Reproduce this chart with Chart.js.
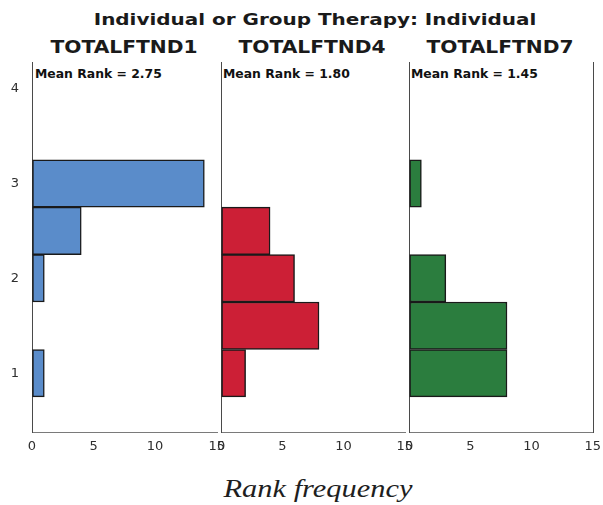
<!DOCTYPE html>
<html>
<head>
<meta charset="utf-8">
<script src="https://cdn.jsdelivr.net/npm/chart.js@4/dist/chart.umd.min.js"></script>
<style>
  html, body { margin: 0; padding: 0; background: #fff; }
  body { width: 603px; height: 505px; overflow: hidden; position: relative; font-family: "DejaVu Sans", sans-serif; }
  .panel { position: absolute; top: 0; }
  .txt { position: absolute; white-space: nowrap; line-height: 1; }
  #mainTitle { font-weight: bold; font-size: 15.6px; color: #1a1a1a; }
  .panelTitle { font-weight: bold; font-size: 18.4px; color: #1a1a1a; }
  .meanRank { font-weight: bold; font-size: 12.4px; color: #111; }
  #xTitle { font-family: "Liberation Serif", serif; font-style: italic; font-size: 26px; color: #1e1e1e; }
</style>
</head>
<body>
<div id="mainTitle" class="txt">Individual or Group Therapy: Individual</div>
<div id="xTitle" class="txt">Rank frequency</div>

<script>
// Rank bins (half-rank wide) and the frequency in each bin
const rankBins = [1, 1.5, 2, 2.5, 3];
const countsFTND1 = [1, 0, 1, 4, 14];
const countsFTND4 = [2, 8, 6, 4, 0];
const countsFTND7 = [8, 8, 3, 0, 1];

const panelNames = ['TOTALFTND1', 'TOTALFTND4', 'TOTALFTND7'];
const panelCounts = [countsFTND1, countsFTND4, countsFTND7];
const panelColors = ['#5a8cca', '#cc1f36', '#2b7d3e'];

const xTickValues = [0, 5, 10, 15];
const yTickValues = [1, 2, 3, 4];

// Layout of the three side-by-side panels
const axisLeft = [32, 220, 408];
const panelWidth = 187.5;
const plotTop = 62;
const plotBottom = 432;
const pageH = 505;
const rightPad = 12;

function meanRank(counts) {
  let s = 0, n = 0;
  counts.forEach((c, i) => { s += c * rankBins[i]; n += c; });
  return s / n;
}

function placeText(el, cx, baseline, fontPx, scaleX, ascentRatio) {
  // line-height 1: baseline sits at top + (1 - (asc+desc))/2 + asc
  const top = baseline - fontPx * ascentRatio;
  el.style.top = top + 'px';
  el.style.left = cx + 'px';
  el.style.transform = 'translateX(-50%) scaleX(' + scaleX + ')';
}

// DejaVu Sans: asc .928 desc .236 -> baseline offset .846em
placeText(document.getElementById('mainTitle'), 315, 26, 15.6, 1.28, 0.846);
// Liberation Serif: asc .891 desc .216 -> baseline offset .8375em
placeText(document.getElementById('xTitle'), 317.7, 498, 26, 1.17, 0.8375);

panelNames.forEach((name, idx) => {
  const t = document.createElement('div');
  t.className = 'txt panelTitle';
  t.textContent = name;
  document.body.appendChild(t);
  placeText(t, axisLeft[idx] + panelWidth / 2 - 1.5, 54, 18.4, 1.1, 0.846);

  const m = document.createElement('div');
  m.className = 'txt meanRank';
  m.textContent = 'Mean Rank = ' + meanRank(panelCounts[idx]).toFixed(2);
  document.body.appendChild(m);
  m.style.left = (axisLeft[idx] + 3) + 'px';
  m.style.top = (78.5 - 12.4 * 0.846) + 'px';
});

const transparent = 'rgba(0,0,0,0)';

function buildPanel(idx) {
  const isFirst = idx === 0;
  const isLast = idx === 2;
  const yAxisW = isFirst ? 32 : 10;
  const w = Math.round(yAxisW + panelWidth + rightPad);

  const wrap = document.createElement('div');
  wrap.className = 'panel';
  wrap.style.left = (axisLeft[idx] - yAxisW) + 'px';
  const canvas = document.createElement('canvas');
  canvas.width = w;
  canvas.height = pageH;
  canvas.style.width = w + 'px';
  canvas.style.height = pageH + 'px';
  wrap.appendChild(canvas);
  document.body.appendChild(wrap);

  const counts = panelCounts[idx];
  const scales = {
    x: {
      type: 'linear',
      position: 'bottom',
      min: 0,
      max: 15.1,
      offset: false,
      afterBuildTicks: s => { s.ticks = xTickValues.map(v => ({ value: v })); },
      afterFit: s => { s.height = pageH - plotBottom; },
      grid: { display: true, color: transparent, drawTicks: false },
      border: { display: true, color: '#7a7a7a', width: 1 },
      ticks: {
        padding: 7,
        color: '#2e2e2e',
        font: { family: 'DejaVu Sans', size: 13 },
        maxRotation: 0,
        autoSkip: false
      }
    },
    y: {
      type: 'linear',
      position: 'left',
      min: 0.38,
      max: 4.28,
      offset: false,
      afterBuildTicks: s => { s.ticks = yTickValues.map(v => ({ value: v })); },
      afterFit: s => { s.width = yAxisW; },
      grid: { display: true, color: transparent, drawTicks: false, offset: false },
      border: { display: true, color: '#4a4a4a', width: 1 },
      ticks: {
        display: isFirst,
        padding: 13,
        color: '#2e2e2e',
        font: { family: 'DejaVu Sans', size: 13 }
      }
    }
  };
  if (isLast) {
    scales.yEdge = {
      type: 'linear',
      position: 'right',
      display: true,
      afterFit: s => { s.width = 0; },
      grid: { display: true, color: transparent, drawTicks: false },
      border: { display: true, color: '#4a4a4a', width: 1 },
      ticks: { display: false }
    };
  }

  new Chart(canvas, {
    type: 'bar',
    data: {
      datasets: [{
        label: panelNames[idx],
        data: rankBins.map((r, i) => ({ x: counts[i], y: r })),
        backgroundColor: panelColors[idx],
        borderColor: '#1a1a1a',
        borderWidth: 1.5,
        borderSkipped: false,
        categoryPercentage: 1,
        barPercentage: 1
      }]
    },
    options: {
      indexAxis: 'y',
      responsive: false,
      animation: false,
      events: [],
      layout: { padding: { top: plotTop, right: rightPad, bottom: 0, left: 0 } },
      plugins: { legend: { display: false }, tooltip: { enabled: false }, title: { display: false } },
      scales
    }
  });
}

[0, 1, 2].forEach(buildPanel);
</script>
</body>
</html>
